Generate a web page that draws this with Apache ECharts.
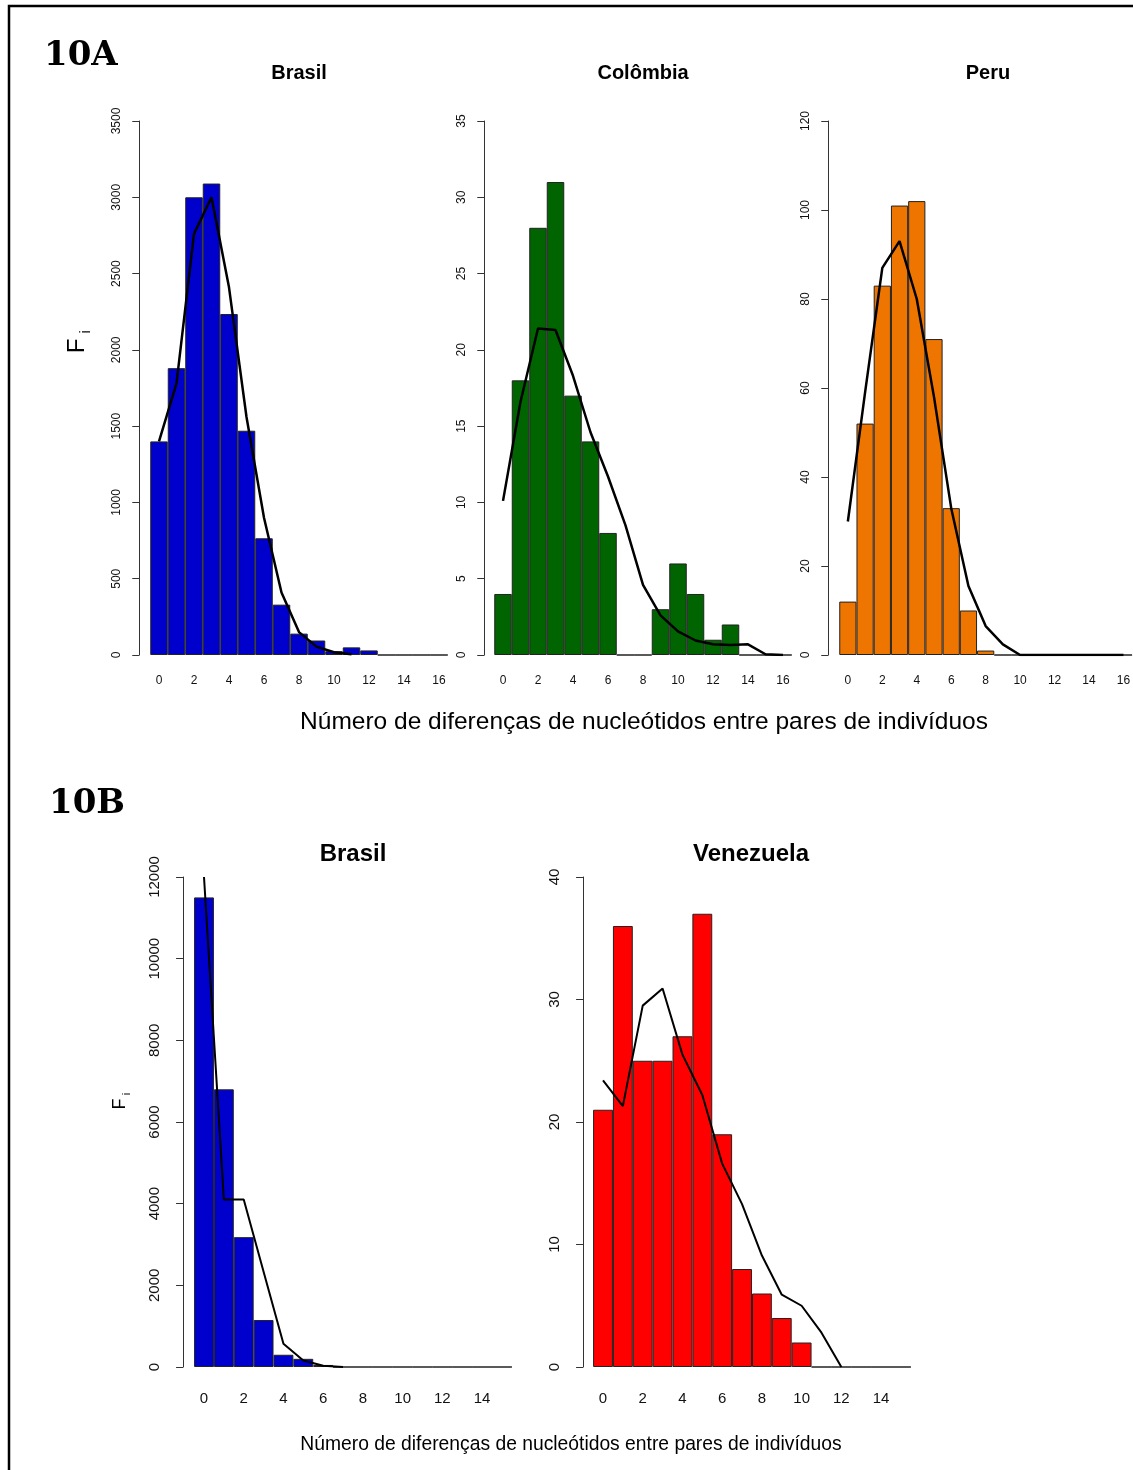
<!DOCTYPE html>
<html>
<head>
<meta charset="utf-8">
<script src="https://cdn.jsdelivr.net/npm/echarts@6/dist/echarts.min.js"></script>
<style>
  html, body { margin: 0; padding: 0; background: #fff; }
  #chart { width: 1133px; height: 1470px; }
</style>
</head>
<body>
<div id="chart"></div>
<script>
// Pairwise nucleotide differences (mismatch distributions)
const diffsA = ['0','1','2','3','4','5','6','7','8','9','10','11','12','13','14','15','16'];
const diffsB = ['0','1','2','3','4','5','6','7','8','9','10','11','12','13','14','15'];

// 10A – observed frequencies (bars) and expected curve (line)
const brasilAObs   = [1400, 1880, 3000, 3090, 2235, 1470, 765, 330, 140, 95, 25, 50, 30, 0, 0, 0, 0];
const brasilAExp   = [1400, 1780, 2760, 3000, 2410, 1560, 900, 410, 150, 55, 18, 5];
const colombiaObs  = [4, 18, 28, 31, 17, 14, 8, 0, 0, 3, 6, 4, 1, 2, 0, 0, 0];
const colombiaExp  = [10.1, 16.6, 21.4, 21.3, 18.3, 14.6, 11.7, 8.5, 4.6, 2.6, 1.55, 0.95, 0.7, 0.65, 0.7, 0.05, 0];
const peruObs      = [12, 52, 83, 101, 102, 71, 33, 10, 1, 0, 0, 0, 0, 0, 0, 0, 0];
const peruExp      = [30, 59, 87, 93, 80, 58, 33, 15.5, 6.5, 2.4, 0, 0, 0, 0, 0, 0, 0];

// 10B
const brasilBObs   = [11500, 6800, 3180, 1150, 300, 200, 50, 0, 0, 0, 0, 0, 0, 0, 0, 0];
const brasilBExp   = [12000, 4100, 4100, 2330, 570, 160, 30, 0];
const venezuelaObs = [21, 36, 25, 25, 27, 37, 19, 8, 6, 4, 2, 0, 0, 0, 0, 0];
const venezuelaExp = [23.4, 21.3, 29.5, 30.9, 25.5, 22.2, 16.6, 13.3, 9.1, 5.9, 5.0, 2.8, 0];

const panelTitles = ['Brasil', 'Colômbia', 'Peru', 'Brasil', 'Venezuela'];
const xTitle = 'Número de diferenças de nucleótidos entre pares de indivíduos';

const SANS = '"Liberation Sans", Arial, sans-serif';

// layout of each small histogram
const panels = [
  { cats: diffsA, obs: brasilAObs,   exp: brasilAExp,   color: '#0000CD', max: 3500,  step: 500,  left: 150.25, width: 297.5, top: 121, height: 534, off: 11, fs: 12, lw: 2.5, xm: 20, ym: 17 },
  { cats: diffsA, obs: colombiaObs,  exp: colombiaExp,  color: '#006400', max: 35,    step: 5,    left: 494.25, width: 297.5, top: 121, height: 534, off: 10, fs: 12, lw: 2.5, xm: 20, ym: 17 },
  { cats: diffsA, obs: peruObs,      exp: peruExp,      color: '#EE7600', max: 120,   step: 20,   left: 839.25, width: 297.5, top: 121, height: 534, off: 11, fs: 12, lw: 2.5, xm: 20, ym: 17 },
  { cats: diffsB, obs: brasilBObs,   exp: brasilBExp,   color: '#0000CD', max: 12000, step: 2000, left: 194.07, width: 317.8, top: 877, height: 490, off: 11, fs: 15, lw: 2,   xm: 24, ym: 21 },
  { cats: diffsB, obs: venezuelaObs, exp: venezuelaExp, color: '#FF0000', max: 40,    step: 10,   left: 593.07, width: 317.8, top: 877, height: 490, off: 10, fs: 15, lw: 2,   xm: 24, ym: 21 }
];

const grids = [], xAxes = [], yAxes = [], series = [];
panels.forEach((p, i) => {
  grids.push({ left: p.left, top: p.top, width: p.width, height: p.height, containLabel: false });
  xAxes.push({
    type: 'category', gridIndex: i, data: p.cats,
    axisLine: { show: false }, axisTick: { show: false }, splitLine: { show: false },
    axisLabel: { interval: 1, fontSize: p.fs, fontFamily: SANS, color: '#111', margin: p.xm }
  });
  yAxes.push({
    type: 'value', gridIndex: i, min: 0, max: p.max, interval: p.step, offset: p.off,
    axisLine: { show: true, lineStyle: { color: '#333', width: 1 } },
    axisTick: { show: true, length: 7, lineStyle: { color: '#333', width: 1 } },
    splitLine: { show: false },
    axisLabel: { rotate: 90, fontSize: p.fs, fontFamily: SANS, color: '#111', margin: p.ym,
                 formatter: v => String(v) }
  });
  series.push({
    type: 'bar', xAxisIndex: i, yAxisIndex: i, data: p.obs,
    barCategoryGap: '0%', silent: true,
    itemStyle: { color: p.color, borderColor: '#222', borderWidth: 1 }
  });
  series.push({
    type: 'line', xAxisIndex: i, yAxisIndex: i, data: p.exp,
    symbol: 'none', silent: true, z: 5,
    lineStyle: { color: '#000', width: p.lw }
  });
});

function label(x, y, text, font, align) {
  return { type: 'text', x: x, y: y, silent: true,
    style: { text: text, font: font, fill: '#000', align: align || 'center', verticalAlign: 'middle' } };
}
function rotated(x, y, text, font) {
  return { type: 'text', x: x, y: y, rotation: Math.PI / 2, silent: true,
    style: { text: text, font: font, fill: '#000', align: 'center', verticalAlign: 'middle' } };
}

const graphics = [
  { type: 'polyline', silent: true, shape: { points: [[9, 1470], [9, 6], [1133, 6]] },
    style: { stroke: '#000', lineWidth: 2.5, fill: null } },
  label(44, 56, '10A', 'bold 34px "DejaVu Serif", serif', 'left'),
  label(49, 804, '10B', 'bold 34px "DejaVu Serif", serif', 'left'),
  label(299, 73, panelTitles[0], 'bold 20px ' + SANS),
  label(643, 73, panelTitles[1], 'bold 20px ' + SANS),
  label(988, 73, panelTitles[2], 'bold 20px ' + SANS),
  label(353, 854, panelTitles[3], 'bold 24px ' + SANS),
  label(751, 854, panelTitles[4], 'bold 24px ' + SANS),
  label(644, 722, xTitle, '24.5px ' + SANS),
  label(571, 1445, xTitle, '19.3px ' + SANS),
  rotated(77, 346, 'F', '24px ' + SANS),
  rotated(86, 332, 'i', '14px ' + SANS),
  rotated(120, 1104, 'F', '18px ' + SANS),
  rotated(127, 1094, 'i', '11px ' + SANS)
];

const chart = echarts.init(document.getElementById('chart'), null, { renderer: 'canvas' });
chart.setOption({
  animation: false,
  backgroundColor: '#fff',
  grid: grids,
  xAxis: xAxes,
  yAxis: yAxes,
  series: series,
  graphic: graphics
});
</script>
</body>
</html>
